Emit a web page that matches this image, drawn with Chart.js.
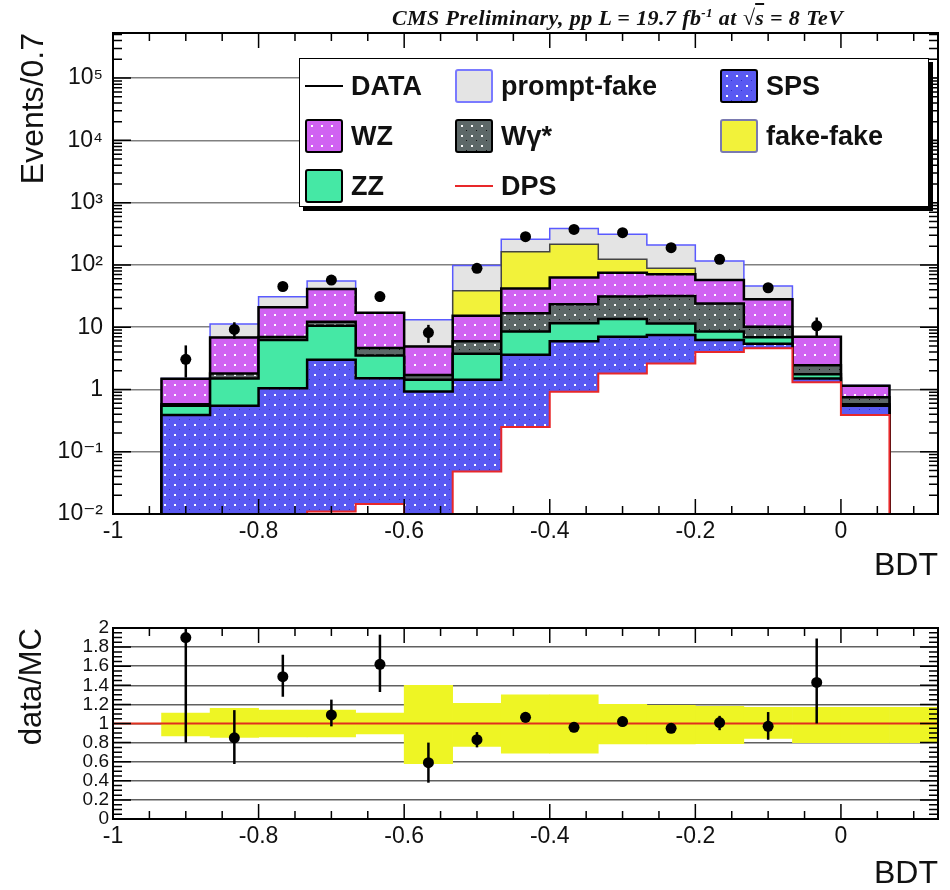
<!DOCTYPE html>
<html>
<head>
<meta charset="utf-8">
<title>BDT output, data vs MC</title>
<script src="https://cdn.jsdelivr.net/npm/chart.js@4.4.1/dist/chart.umd.min.js"></script>
<style>
  body { margin: 0; background: #fff; }
  #page { position: relative; width: 950px; height: 890px; overflow: hidden; font-family: 'Liberation Sans', Arial, sans-serif; }
  #top { position: absolute; left: 0; top: 0; }
  #ratio { position: absolute; left: 0; top: 593px; }
  #cms { position: absolute; left: 392px; top: 5px; font: italic bold 22px 'Liberation Serif', 'Times New Roman', serif; letter-spacing: 0.4px; white-space: nowrap; color: #111; }
  #cms sup { font-size: 13px; }
  #legend { position: absolute; left: 299px; top: 58px; width: 628px; height: 147px; background: #fff; border: 1.5px solid #000; box-shadow: 4px 4px 0 #000; }
  .item { position: absolute; height: 36px; display: flex; align-items: center; font-weight: bold; font-size: 27px; color: #111; white-space: nowrap; }
  .swatch { width: 38px; height: 34px; box-sizing: border-box; border-radius: 3px; margin-right: 8px; }
  .line { width: 38px; height: 0; border-top: 2.5px solid; margin-right: 8px; }
</style>
</head>
<body>
<div id="page">
  <canvas id="top" width="950" height="593"></canvas>
  <canvas id="ratio" width="950" height="297"></canvas>
  <div id="cms">CMS Preliminary, pp L = 19.7 fb<sup>-1</sup> at &radic;<span style="text-decoration: overline">s</span> = 8 TeV</div>
  <div id="legend"></div>
</div>
<script>
// BDT bins (centres), width 1/15
const binCenters = [-0.9, -0.8333, -0.7667, -0.7, -0.6333, -0.5667, -0.5, -0.4333, -0.3667, -0.3, -0.2333, -0.1667, -0.1, -0.0333, 0.0333];
const binWidth = 1 / 15;

// expected events per process (stack order, bottom to top)
const dpsEvents        = [0, 0, 0, 0.011, 0.0145, 0.006, 0.048, 0.25, 0.92, 1.8, 2.6, 4.0, 4.6, 1.3, 0.39];
const spsEvents        = [0.39, 0.55, 1.05, 3.0, 1.5, 0.92, 1.38, 3.35, 5.0, 5.2, 4.9, 2.2, 0.8, 0.2, 0.16];
const zzEvents         = [0.16, 0.95, 5.2, 7.5, 2.0, 0.5, 2.3, 4.9, 5.6, 6.5, 4.0, 2.3, 1.5, 0.25, 0.03];
const wgammaEvents     = [0.03, 0.3, 0.7, 1.7, 1.1, 0.28, 2.2, 8.2, 11.8, 17.5, 20.2, 15.5, 3.3, 0.7, 0.17];
const wzEvents         = [0.9, 5.0, 14, 29, 12.4, 3.2, 9.4, 25.3, 39.7, 44, 39.3, 33, 17.8, 4.55, 0.4];
const fakeFakeEvents   = [0, 0, 0, 0, 0, 0, 23.3, 121, 151, 48, 17, 0.5, 0, 0, 0];
const promptFakeEvents = [0.02, 4.4, 10, 14, 0, 8.2, 59.4, 95, 172, 187, 121, 58.5, 18, 0.05, 0.01];

// observed data
const dataEvents  = [3.05, 9.2, 45, 57, 31, 8.2, 88, 284, 372, 329, 189, 123, 43, 10.5, null];
const dataErrLow  = [1.55, 6.5, 38, 49.5, 25.5, 5.6, 78.6, 267, 353, 311, 175, 112, 36.5, 7.2, null];
const dataErrHigh = [5.1, 12.0, 52, 64.5, 36.6, 10.9, 97.4, 301, 391, 347, 203, 134, 49.5, 14.3, null];

// data/MC ratio
const ratioValues  = [1.90, 0.85, 1.49, 1.09, 1.62, 0.59, 0.83, 1.065, 0.96, 1.02, 0.95, 1.01, 0.97, 1.43, null];
const ratioErrLow  = [0.80, 0.576, 1.28, 0.97, 1.33, 0.38, 0.75, 1.01, 0.91, 0.97, 0.90, 0.93, 0.83, 1.0, null];
const ratioErrHigh = [2.5, 1.14, 1.72, 1.25, 1.93, 0.80, 0.91, 1.12, 1.01, 1.07, 1.00, 1.08, 1.12, 1.89, null];

// MC uncertainty band in the ratio panel
const bandCenters = [-0.9, -0.8333, -0.7667, -0.7, -0.6333, -0.5667, -0.5, -0.4333, -0.3667, -0.3, -0.2333, -0.1667, -0.1, -0.0333, 0.0333, 0.1];
const bandLow  = [0.87, 0.855, 0.86, 0.86, 0.89, 0.58, 0.76, 0.69, 0.69, 0.785, 0.785, 0.79, 0.845, 0.80, 0.80, 0.80];
const bandHigh = [1.11, 1.16, 1.14, 1.14, 1.11, 1.40, 1.21, 1.30, 1.30, 1.20, 1.19, 1.18, 1.17, 1.17, 1.17, 1.17];

// ticks
const xTickValues = [-1, -0.8, -0.6, -0.4, -0.2, 0];
const xTickLabels = ['-1', '-0.8', '-0.6', '-0.4', '-0.2', '0'];
const yTickValues = [0.01, 0.1, 1, 10, 100, 1e3, 1e4, 1e5];
const yTickLabels = ['10⁻²', '10⁻¹', '1', '10', '10²', '10³', '10⁴', '10⁵'];
const ratioTickValues = [0, 0.2, 0.4, 0.6, 0.8, 1, 1.2, 1.4, 1.6, 1.8, 2];
const ratioTickLabels = ['0', '0.2', '0.4', '0.6', '0.8', '1', '1.2', '1.4', '1.6', '1.8', '2'];

const X_MIN = -1, X_MAX = -1 + 17 / 15;
const FLOOR = 1e-3; // below the axis, stands in for empty bins on the log scale

Chart.defaults.font.family = "'Liberation Sans', 'DejaVu Sans', Arial, sans-serif";
Chart.defaults.color = '#111';

function dotTile(bg, dots) {
  const c = document.createElement('canvas');
  c.width = 10; c.height = 10;
  const g = c.getContext('2d');
  g.fillStyle = bg;
  g.fillRect(0, 0, 10, 10);
  dots.forEach(([x, y, s, col]) => { g.fillStyle = col; g.fillRect(x, y, s, s); });
  return c;
}
const tiles = {
  sps: dotTile('#5a5af2', [[4, 4, 2, '#ffffff'], [9, 9, 1, '#2c2cc8']]),
  wz: dotTile('#d062f2', [[4, 4, 2, '#ffffff']]),
  wg: dotTile('#5d6868', [[4, 4, 2, '#ffffff'], [9, 9, 2, '#111111']])
};
const pctx = document.getElementById('top').getContext('2d');
const pat = k => pctx.createPattern(tiles[k], 'repeat');

const processes = [
  {label: 'DPS', values: dpsEvents, bg: '#ffffff', border: '#e8282a', width: 2},
  {label: 'SPS', values: spsEvents, bg: pat('sps'), border: '#000', width: 2.5},
  {label: 'ZZ', values: zzEvents, bg: '#45e8a5', border: '#000', width: 2.5},
  {label: 'Wγ*', values: wgammaEvents, bg: pat('wg'), border: '#000', width: 2.5},
  {label: 'WZ', values: wzEvents, bg: pat('wz'), border: '#000', width: 2.5},
  {label: 'fake-fake', values: fakeFakeEvents, bg: '#f2f23a', border: '#444', width: 1.5},
  {label: 'prompt-fake', values: promptFakeEvents, bg: '#e4e4e4', border: '#5a5aff', width: 1.5}
];

function stepPoints(cum) {
  const pts = [{x: binCenters[0] - binWidth / 2, y: FLOOR}];
  binCenters.forEach((c, i) => pts.push({x: c - binWidth / 2, y: Math.max(cum[i], FLOOR)}));
  pts.push({x: binCenters[binCenters.length - 1] + binWidth / 2, y: FLOOR});
  return pts;
}

let running = binCenters.map(() => 0);
const stackSets = processes.map((p, k) => {
  running = running.map((r, i) => r + p.values[i]);
  return {
    type: 'line', label: p.label, data: stepPoints(running), stepped: true,
    borderColor: p.border, borderWidth: p.width, backgroundColor: p.bg,
    fill: k === 0 ? 'start' : '-1', pointRadius: 0
  };
});

// error bars for datasets carrying errLow/errHigh
const errorBars = {
  id: 'errorBars',
  afterDatasetsDraw(chart) {
    const {ctx, chartArea: a} = chart;
    const y = chart.scales.y;
    ctx.save();
    ctx.beginPath();
    ctx.rect(a.left, a.top, a.width, a.height);
    ctx.clip();
    ctx.strokeStyle = '#000';
    ctx.lineWidth = 2.5;
    chart.data.datasets.forEach((ds, i) => {
      if (!ds.errLow) return;
      chart.getDatasetMeta(i).data.forEach((pt, j) => {
        if (ds.errLow[j] == null) return;
        ctx.beginPath();
        ctx.moveTo(pt.x, y.getPixelForValue(ds.errLow[j]));
        ctx.lineTo(pt.x, y.getPixelForValue(ds.errHigh[j]));
        ctx.stroke();
      });
    });
    ctx.restore();
  }
};

// ROOT-like frame with inward ticks on all sides
const rootFrame = {
  id: 'rootFrame',
  afterDatasetsDraw(chart, args, opts) {
    const {ctx, chartArea: a, scales: {x, y}} = chart;
    ctx.save();
    ctx.strokeStyle = '#000';
    ctx.lineWidth = 1.5;
    ctx.beginPath();
    for (let k = 0; X_MIN + k * 0.05 <= X_MAX + 1e-9; k++) {
      const v = X_MIN + k * 0.05;
      const px = x.getPixelForValue(v);
      const len = xTickValues.some(m => Math.abs(m - v) < 1e-6) ? 15 : 8;
      ctx.moveTo(px, a.bottom); ctx.lineTo(px, a.bottom - len);
      ctx.moveTo(px, a.top); ctx.lineTo(px, a.top + len);
    }
    opts.yTicks(y).forEach(([v, major]) => {
      const py = y.getPixelForValue(v);
      if (py < a.top - 0.5 || py > a.bottom + 0.5) return;
      const len = major ? 18 : 9;
      ctx.moveTo(a.left, py); ctx.lineTo(a.left + len, py);
      ctx.moveTo(a.right, py); ctx.lineTo(a.right - len, py);
    });
    ctx.stroke();
    ctx.lineWidth = 2;
    ctx.strokeRect(a.left, a.top, a.width, a.height);
    ctx.restore();
  }
};

const xAxis = (height, titlePad) => ({
  type: 'linear', min: X_MIN, max: X_MAX, offset: false,
  afterBuildTicks: s => { s.ticks = xTickValues.map(v => ({value: v})); },
  afterFit: s => { s.height = height; },
  ticks: {callback: (v, i) => xTickLabels[i], font: {size: 23}, padding: 4, autoSkip: false, maxRotation: 0},
  grid: {display: false, drawTicks: false},
  border: {display: false},
  title: {display: true, text: 'BDT', align: 'end', font: {size: 32, lineHeight: 1}, padding: {top: 0, bottom: titlePad}}
});

new Chart(document.getElementById('top'), {
  type: 'line',
  data: {
    datasets: [
      {
        type: 'line', label: 'DATA', showLine: false,
        data: binCenters.map((c, i) => ({x: c, y: dataEvents[i]})),
        errLow: dataErrLow, errHigh: dataErrHigh,
        pointRadius: 5.5, pointBackgroundColor: '#000', pointBorderWidth: 0
      },
      ...stackSets
    ]
  },
  options: {
    responsive: false, animation: false, events: [],
    layout: {padding: {top: 33, right: 12, left: 0, bottom: 0}},
    scales: {
      x: xAxis(79, 11),
      y: {
        type: 'logarithmic', min: 0.01, max: 5.3e5,
        afterBuildTicks: s => { s.ticks = yTickValues.map(v => ({value: v})); },
        afterFit: s => { s.width = 113; },
        ticks: {callback: (v, i) => yTickLabels[i], font: {size: 23}, padding: 10, autoSkip: false},
        grid: {color: '#808080', lineWidth: 1.5, drawTicks: false},
        border: {display: false},
        title: {display: true, text: 'Events/0.7', align: 'end', font: {size: 32}, padding: {top: 15, bottom: 0}}
      }
    },
    plugins: {
      legend: {display: false},
      tooltip: {enabled: false},
      rootFrame: {
        yTicks: () => {
          const t = [];
          for (let d = -2; d <= 5; d++) for (let m = 1; m <= 9; m++) t.push([m * Math.pow(10, d), m === 1]);
          return t;
        }
      }
    }
  },
  plugins: [errorBars, rootFrame]
});

new Chart(document.getElementById('ratio'), {
  type: 'line',
  data: {
    datasets: [
      {
        type: 'line', label: 'data/MC', showLine: false,
        data: binCenters.map((c, i) => ({x: c, y: ratioValues[i]})),
        errLow: ratioErrLow, errHigh: ratioErrHigh,
        pointRadius: 5.5, pointBackgroundColor: '#000', pointBorderWidth: 0
      },
      {
        type: 'line', label: 'unity', data: [{x: X_MIN, y: 1}, {x: X_MAX, y: 1}],
        borderColor: '#e0301e', borderWidth: 2, pointRadius: 0
      },
      {
        type: 'bar', label: 'MC uncertainty',
        data: bandCenters.map((c, i) => ({x: c, y: [bandLow[i], bandHigh[i]]})),
        backgroundColor: '#eef524', borderWidth: 0, barPercentage: 1, categoryPercentage: 1
      }
    ]
  },
  options: {
    responsive: false, animation: false, events: [],
    layout: {padding: {top: 35, right: 12, left: 0, bottom: 0}},
    scales: {
      x: xAxis(71, 0),
      y: {
        type: 'linear', min: 0, max: 2,
        afterBuildTicks: s => { s.ticks = ratioTickValues.map(v => ({value: v})); },
        afterFit: s => { s.width = 113; },
        ticks: {callback: (v, i) => ratioTickLabels[i], font: {size: 19, lineHeight: 1}, padding: 4, autoSkip: false},
        grid: {color: '#606060', lineWidth: 1.5, drawTicks: false},
        border: {display: false},
        title: {display: true, text: 'data/MC', align: 'end', font: {size: 31}, padding: {top: 14, bottom: 0}}
      }
    },
    plugins: {
      legend: {display: false},
      tooltip: {enabled: false},
      rootFrame: {
        yTicks: () => {
          const t = [];
          for (let k = 0; k <= 40; k++) t.push([k * 0.05, k % 4 === 0]);
          return t;
        }
      }
    }
  },
  plugins: [errorBars, rootFrame]
});

// legend box (3 columns like the original)
const legendItems = [
  {label: 'DATA', col: 0, row: 0, line: '#000'},
  {label: 'prompt-fake', col: 1, row: 0, bg: '#e4e4e4', border: '#7a7aff'},
  {label: 'SPS', col: 2, row: 0, tile: 'sps', border: '#000'},
  {label: 'WZ', col: 0, row: 1, tile: 'wz', border: '#000'},
  {label: 'Wγ*', col: 1, row: 1, tile: 'wg', border: '#000'},
  {label: 'fake-fake', col: 2, row: 1, bg: '#f2f23a', border: '#7a7ab0'},
  {label: 'ZZ', col: 0, row: 2, bg: '#45e8a5', border: '#000'},
  {label: 'DPS', col: 1, row: 2, line: '#e8282a'}
];
const legendCols = [5, 155, 420];
const legendRows = [9, 59, 109];
const legend = document.getElementById('legend');
legendItems.forEach(it => {
  const div = document.createElement('div');
  div.className = 'item';
  div.style.left = legendCols[it.col] + 'px';
  div.style.top = legendRows[it.row] + 'px';
  const sw = document.createElement('div');
  if (it.line) {
    sw.className = 'line';
    sw.style.borderTopColor = it.line;
  } else {
    sw.className = 'swatch';
    sw.style.border = '2.5px solid ' + it.border;
    if (it.tile) sw.style.background = 'url(' + tiles[it.tile].toDataURL() + ')';
    else sw.style.background = it.bg;
  }
  div.appendChild(sw);
  div.appendChild(document.createTextNode(it.label));
  legend.appendChild(div);
});
</script>
</body>
</html>
